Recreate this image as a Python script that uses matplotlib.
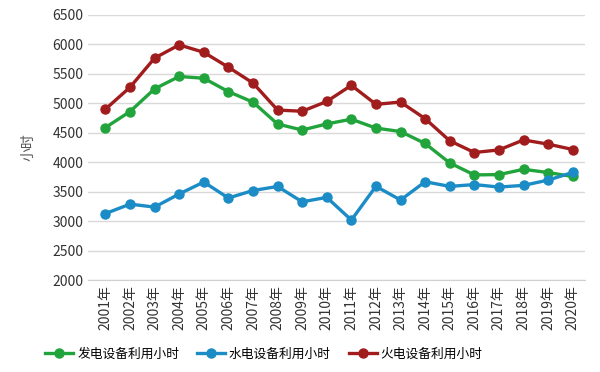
import matplotlib
matplotlib.use("Agg")
import matplotlib.pyplot as plt

plt.rcParams['font.family'] = ['Noto Sans CJK SC', 'DejaVu Sans']

years = [str(y) + '年' for y in range(2001, 2021)]

# 发电 / 水电 / 火电 设备利用小时
total = [4588, 4860, 5245, 5455, 5425, 5198, 5020, 4648, 4546, 4650,
         4730, 4579, 4521, 4318, 3988, 3785, 3790, 3880, 3825, 3758]
hydro = [3129, 3289, 3239, 3462, 3664, 3393, 3520, 3589, 3328, 3404,
         3019, 3591, 3359, 3669, 3590, 3621, 3579, 3607, 3697, 3827]
thermal = [4900, 5272, 5767, 5991, 5865, 5612, 5344, 4885, 4865, 5031,
           5305, 4982, 5021, 4739, 4364, 4165, 4209, 4378, 4307, 4216]

series_names = ['发电设备利用小时', '水电设备利用小时', '火电设备利用小时']
colors = ['#22a43c', '#1b8cc6', '#a11d1d']

fig = plt.figure(figsize=(6, 3.72), dpi=100)
ax = fig.add_axes([0.147, 0.247, 0.828, 0.713])

x = list(range(len(years)))
for vals, name, c in zip([total, hydro, thermal], series_names, colors):
    ax.plot(x, vals, color=c, lw=2.4, marker='o', ms=6.5, label=name)

ax.set_ylim(2000, 6500)
ax.set_yticks(range(2000, 6501, 500))
ax.set_xlim(-0.7, len(years) - 0.5)
ax.set_xticks(x)
ax.set_xticklabels(years, rotation=90, fontsize=10, color='#333333')
ax.tick_params(axis='y', labelsize=10, colors='#333333')
ax.tick_params(length=0)
ax.grid(axis='y', color='#d9d9d9', lw=1)
ax.set_axisbelow(True)
for s in ['top', 'right', 'left']:
    ax.spines[s].set_visible(False)
ax.spines['bottom'].set_color('#d0d0d0')
ax.set_ylabel('小时', fontsize=10, color='#555555', labelpad=12)

fig.legend(loc='lower center', bbox_to_anchor=(0.44, 0.0), ncol=3, frameon=False,
           fontsize=9.2, handlelength=2.2, columnspacing=1.4, handletextpad=0.3)

fig.savefig('out.png', dpi=100)
